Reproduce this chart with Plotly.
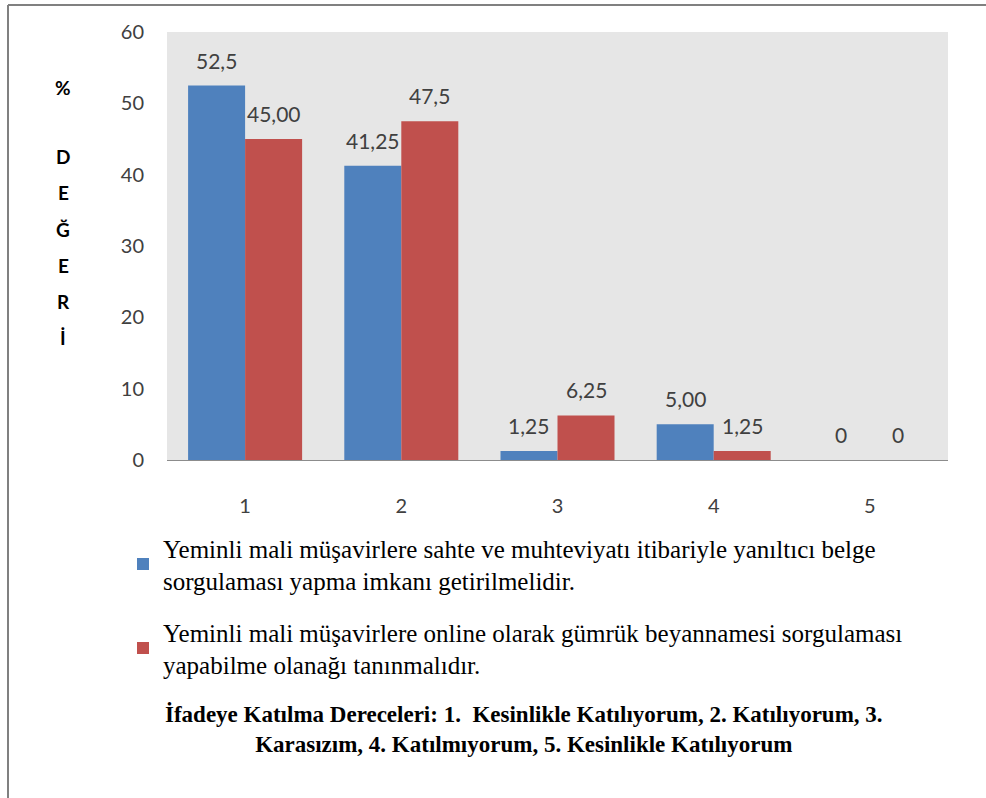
import plotly.graph_objects as go

# Agreement levels on the x axis
categories = ["1", "2", "3", "4", "5"]

# Percentage of respondents per agreement level
series_a_values = [52.5, 41.25, 1.25, 5.00, 0]
series_b_values = [45.00, 47.5, 6.25, 1.25, 0]

# Data labels as printed above the bars
series_a_labels = ["52,5", "41,25", "1,25", "5,00", "0"]
series_b_labels = ["45,00", "47,5", "6,25", "1,25", "0"]

series_a_name = ("Yeminli mali müşavirlere sahte ve muhteviyatı itibariyle yanıltıcı belge<br>"
                 "sorgulaması yapma imkanı getirilmelidir.")
series_b_name = ("Yeminli mali müşavirlere online olarak gümrük beyannamesi sorgulaması<br>"
                 "yapabilme olanağı tanınmalıdır.")

y_title_letters = ["%", "D", "E", "Ğ", "E", "R", "İ"]
footnote = ("İfadeye Katılma Dereceleri: 1.  Kesinlikle Katılıyorum, 2. Katılıyorum, 3.<br>"
            "Karasızım, 4. Katılmıyorum, 5. Kesinlikle Katılıyorum")

W, H = 986, 798
L, R, T, B = 167, 38, 32, 338
pw, ph = W - L - R, H - T - B
BARGAP = 0.27
bar_w = pw / len(categories) * (1 - BARGAP) / 2


def px_x(x):
    return (x - L) / pw


def px_y(y):
    return (H - B - y) / ph


SANS = "Lato"
SERIF = "Liberation Serif"
label_font = dict(family=SANS, size=21, color="#404040")
tick_font = dict(family=SANS, size=20, color="#404040")

fig = go.Figure()
for vals, labels, name, color, group, side in [
    (series_a_values, series_a_labels, series_a_name, "#4f81bd", "a", -1),
    (series_b_values, series_b_labels, series_b_name, "#c0504d", "b", 1),
]:
    fig.add_trace(go.Bar(
        x=categories, y=vals, name=name,
        marker=dict(color=color, line=dict(width=0)),
        legendgroup=group,
    ))
    # value labels floating a little above each bar (category axis: index positions)
    for idx, (v, lab) in enumerate(zip(vals, labels)):
        fig.add_annotation(
            x=idx, y=v, text=lab, showarrow=False,
            xshift=side * bar_w / 2, yshift=11, yanchor="bottom",
            font=label_font,
        )

# Stacked vertical axis title: "%" then D-E-Ğ-E-R-İ
title_y = [87, 157, 193, 229, 265, 301, 337]
for letter, yy in zip(y_title_letters, title_y):
    fig.add_annotation(
        text="<b>" + letter + "</b>", xref="paper", yref="paper", x=px_x(63), y=px_y(yy),
        xanchor="center", yanchor="middle", showarrow=False,
        font=dict(family=SANS, size=19, color="#000000"),
    )

fig.add_annotation(
    text="<b>" + footnote + "</b>", xref="paper", yref="paper",
    x=px_x(524), y=px_y(729), xanchor="center", yanchor="middle",
    showarrow=False, align="center",
    font=dict(family=SERIF, size=23, color="#000000"),
)

# Outer frame (top and left edges)
frame = dict(color="#808080", width=2)
fig.add_shape(type="line", xref="paper", yref="paper",
              x0=px_x(8), x1=px_x(986), y0=px_y(5), y1=px_y(5), line=frame)
fig.add_shape(type="line", xref="paper", yref="paper",
              x0=px_x(8), x1=px_x(8), y0=px_y(5), y1=px_y(798), line=frame)

fig.update_layout(
    width=W, height=H,
    margin=dict(l=L, r=R, t=T, b=B, autoexpand=False),
    paper_bgcolor="#ffffff", plot_bgcolor="#e6e6e6",
    barmode="group", bargap=BARGAP, bargroupgap=0,
    showlegend=True,
    legend=dict(
        x=px_x(123), y=px_y(525), xanchor="left", yanchor="top",
        font=dict(family=SERIF, size=25, color="#000000"),
        bgcolor="rgba(0,0,0,0)", tracegroupgap=16, itemwidth=30,
        traceorder="grouped",
    ),
    xaxis=dict(
        type="category", range=[-0.5, 4.5],
        showgrid=False, showline=True, linecolor="#8c8c8c", linewidth=1,
        ticks="", tickfont=tick_font,
        ticklabelstandoff=28, zeroline=False,
    ),
    yaxis=dict(
        range=[0, 60], dtick=10, showgrid=False, showline=False, zeroline=False,
        ticks="", tickfont=tick_font,
        ticklabelstandoff=22,
    ),
)

fig.write_html("out.html")
